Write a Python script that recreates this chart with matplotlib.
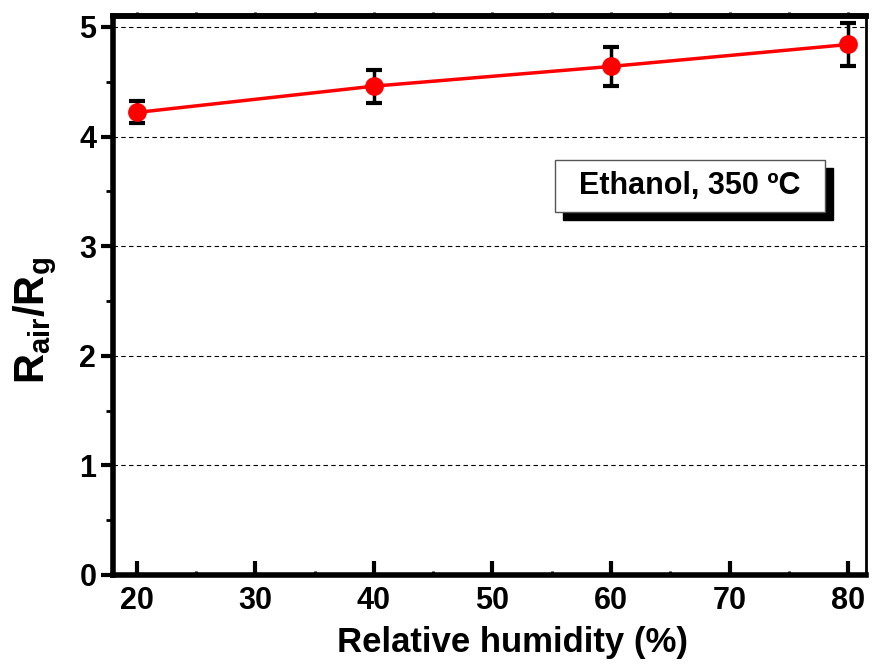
import numpy as np
import matplotlib.pyplot as plt
from matplotlib.patches import Rectangle
from matplotlib.ticker import MultipleLocator

plt.rcParams['font.family'] = ['Liberation Sans', 'DejaVu Sans']
plt.rcParams['font.weight'] = 'bold'
plt.rcParams['mathtext.fontset'] = 'custom'
plt.rcParams['mathtext.rm'] = 'Liberation Sans:bold'
plt.rcParams['mathtext.bf'] = 'Liberation Sans:bold'
plt.rcParams['mathtext.it'] = 'Liberation Sans:bold'

# data
humidity = [20, 40, 60, 80]
response = [4.22, 4.46, 4.64, 4.84]
err = [0.10, 0.15, 0.18, 0.20]

fig = plt.figure(figsize=(8.72, 6.69), dpi=100)
ax = fig.add_axes([113 / 872, 94 / 669, 753 / 872, 559 / 669])

ax.plot(humidity, response, color='red', lw=2.5, zorder=3)
ax.errorbar(humidity, response, yerr=err, fmt='none', ecolor='black',
            elinewidth=2.5, capsize=5.5, capthick=3, zorder=4)
ax.plot(humidity, response, 'o', color='red', ms=12.5, zorder=5)

ax.set_xlim(18, 81.5)
ax.set_ylim(0, 5.1)
ax.xaxis.set_major_locator(MultipleLocator(10))
ax.xaxis.set_minor_locator(MultipleLocator(5))
ax.yaxis.set_major_locator(MultipleLocator(1))
ax.yaxis.set_minor_locator(MultipleLocator(0.5))

for y in range(1, 6):
    ax.axhline(y, color='black', lw=0.8, ls=(0, (4, 3)), zorder=1)

for s in ['left', 'bottom', 'top']:
    ax.spines[s].set_linewidth(4)
ax.spines['right'].set_linewidth(2)

ax.tick_params(axis='x', which='major', direction='in', length=10, width=3,
               labelsize=22, pad=8)
ax.tick_params(axis='x', which='minor', direction='in', length=3, width=2)
ax.tick_params(axis='y', which='major', direction='out', length=9, width=3,
               labelsize=22, pad=3)
ax.tick_params(axis='y', which='minor', direction='out', length=5, width=2)

# small ticks along top spine
top = ax.secondary_xaxis('top')
top.xaxis.set_major_locator(MultipleLocator(5))
top.tick_params(direction='out', length=3, width=2, labeltop=False)
top.spines['top'].set_linewidth(4)

ax.set_xlabel('Relative humidity (%)', fontsize=25, fontweight='bold')
ax.xaxis.set_label_coords(0.53, -0.092)
ax.set_ylabel(r'$\mathbf{R_{air}/R_g}$', fontsize=30)
ax.yaxis.set_label_coords(-0.072, 0.455)

# annotation box with shadow
bx0, by0, bw, bh = 0.587, 0.649, 0.359, 0.093
ax.add_patch(Rectangle((bx0 + 8 / 753, by0 - 8 / 559), bw, bh, transform=ax.transAxes,
                       facecolor='black', edgecolor='black', zorder=6))
ax.add_patch(Rectangle((bx0, by0), bw, bh, transform=ax.transAxes,
                       facecolor='white', edgecolor='#555555', lw=1, zorder=7))
ax.text(bx0 + bw / 2, by0 + bh / 2, 'Ethanol, 350 \u00baC', transform=ax.transAxes,
        ha='center', va='center', fontsize=22, fontweight='bold', zorder=8)

fig.savefig('out.png', dpi=100)
